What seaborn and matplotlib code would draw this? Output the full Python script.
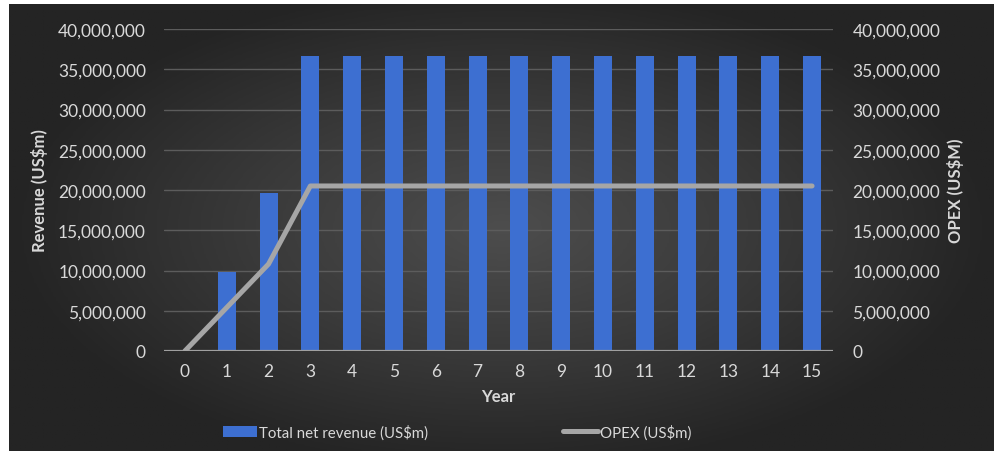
import numpy as np
import pandas as pd
import matplotlib
matplotlib.use("Agg")
import matplotlib.pyplot as plt
from matplotlib.colors import LinearSegmentedColormap
from matplotlib.lines import Line2D
from matplotlib.patches import Patch
from matplotlib.ticker import FuncFormatter
import seaborn as sns

# Project cash-flow summary by year
years = list(range(16))
revenue = [0, 9_800_000, 19_600_000] + [36_700_000] * 13
opex = [0, 5_400_000, 10_800_000] + [20_500_000] * 13

y_ticks = [0, 5_000_000, 10_000_000, 15_000_000, 20_000_000,
           25_000_000, 30_000_000, 35_000_000, 40_000_000]

sns.set_theme(style="dark")
plt.rcParams["font.family"] = ["Lato", "DejaVu Sans"]

BAR = "#3d6fd1"
LINE = "#a6a6a6"
TXT = "#d9d9d9"
GRID = "#5c5c5c"

fig = plt.figure(figsize=(9.95, 4.52), dpi=100, facecolor="white")

# dark radial backdrop
bg = fig.add_axes([9 / 995, 0, 1 - 9 / 995, 1 - 5 / 452])
bg.set_axis_off()
gx, gy = np.meshgrid(np.linspace(-1, 1, 400), np.linspace(-1, 1, 200))
r = np.clip(np.sqrt((gx / 1.0) ** 2 + (gy / 1.1) ** 2), 0, 1)
cmap = LinearSegmentedColormap.from_list("bg", ["#4d4d4d", "#3a3a3a", "#242424"])
bg.imshow(r, cmap=cmap, aspect="auto", extent=[0, 1, 0, 1], vmin=0, vmax=1)

ax = fig.add_axes([164 / 995, 1 - 352 / 452, (833 - 164) / 995, (352 - 30) / 452])
ax.patch.set_alpha(0)

df = pd.DataFrame({"Year": years, "Revenue": revenue, "OPEX": opex})
sns.barplot(data=df, x="Year", y="Revenue", color=BAR, width=0.43,
            saturation=1, ax=ax, zorder=2, edgecolor="none", linewidth=0)

ax.set_xlim(-0.5, 15.5)
ax.set_ylim(0, 40_000_000)
ax.set_yticks(y_ticks)
fmt = FuncFormatter(lambda v, p: f"{int(v):,}")
ax.yaxis.set_major_formatter(fmt)
ax.grid(axis="y", color=GRID, linewidth=1.0, zorder=0)
ax.grid(axis="x", visible=False)
for s in ax.spines.values():
    s.set_visible(False)
ax.axhline(0, color="#a0a0a0", linewidth=1.6, zorder=3)
ax.tick_params(axis="both", colors=TXT, labelsize=12.5, length=0)
ax.tick_params(axis="y", pad=13)
ax.tick_params(axis="x", pad=9)
ax.set_xlabel("Year", color=TXT, fontsize=12, fontweight="bold", labelpad=6)
ax.set_ylabel("Revenue (US$m)", color=TXT, fontsize=12, fontweight="bold", labelpad=7)

ax2 = ax.twinx()
ax2.patch.set_alpha(0)
sns.lineplot(data=df, x="Year", y="OPEX", color=LINE, linewidth=3.6,
             ax=ax2, solid_capstyle="round", solid_joinstyle="round", zorder=4)
ax2.set_ylim(0, 40_000_000)
ax2.set_yticks(y_ticks)
ax2.yaxis.set_major_formatter(fmt)
ax2.grid(False)
for s in ax2.spines.values():
    s.set_visible(False)
ax2.tick_params(axis="y", colors=TXT, labelsize=12.5, length=0, pad=14)
ax2.set_ylabel("OPEX (US$M)", color=TXT, fontsize=12, fontweight="bold", labelpad=5)
ax2.set_xlabel("")

handles = [Patch(facecolor=BAR, edgecolor="none"),
           Line2D([0], [0], color=LINE, linewidth=3.6, solid_capstyle="round")]
fig.legend(handles, ["Total net revenue (US$m)", "OPEX (US$m)"],
           loc="center", bbox_to_anchor=(457 / 995, 1 - 433 / 452), ncol=2,
           frameon=False, fontsize=10.8, labelcolor=TXT, handlelength=2.3,
           handleheight=0.7, handletextpad=0.15, columnspacing=9.0)

fig.savefig("out.png", dpi=100, facecolor=fig.get_facecolor())
